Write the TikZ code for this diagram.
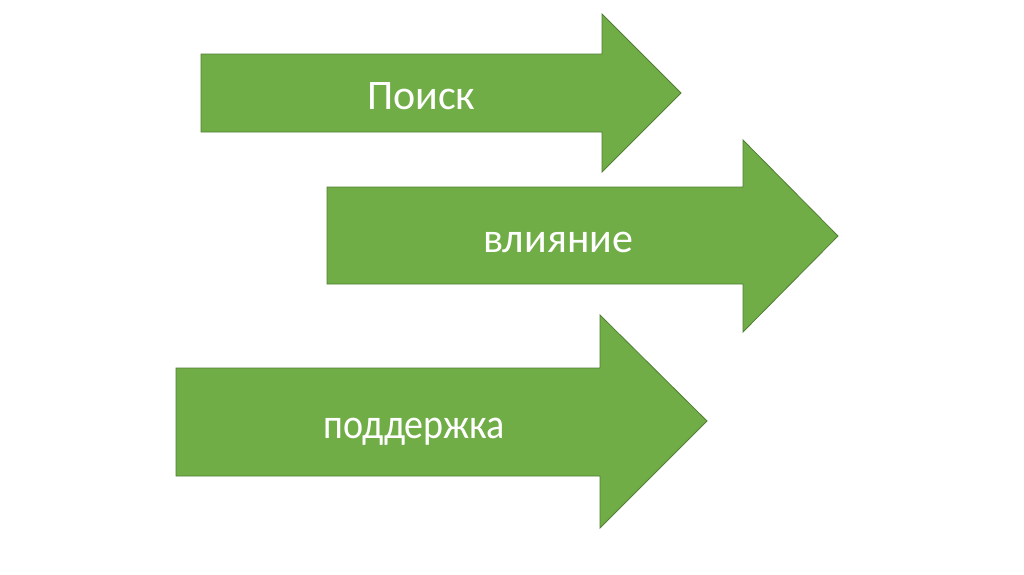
\documentclass[tikz,border=0pt]{standalone}
\usepackage{fontspec}
\setmainfont{Carlito}
\definecolor{argreen}{HTML}{70AD47}
\definecolor{arline}{HTML}{507E32}
\tikzset{
  bigarrow/.style={fill=argreen, draw=arline, line width=0.8pt, line join=miter},
  lbl/.style={anchor=base west, text=white, font=\fontsize{42}{48}\selectfont, inner sep=0pt},
}
\begin{document}
\begin{tikzpicture}[x=1pt, y=-1pt]
    \useasboundingbox (0,0) rectangle (1024,574);
    % left, body top, body bottom, head x, head top, head bottom, tip x, tip y
    \foreach \l/\bt/\bb/\hx/\ht/\hb/\tx/\ty in {
      201/54/132/602/14/172/681/93,
      327/187/284/743/140/332/838/236,
      176/368/476/600/315/528/707/421} {
      \draw[bigarrow] (\l,\bt) -- (\hx,\bt) -- (\hx,\ht) -- (\tx,\ty)
        -- (\hx,\hb) -- (\hx,\bb) -- (\l,\bb) -- cycle;
    }
    \node[lbl] (poisk) at (367,109) {Поиск};
    \node[lbl] (vliyanie) at (483,252) {влияние};
    \node[lbl] (podderzhka) at (323,438) {\scalebox{0.905}[1]{поддержка}};
\end{tikzpicture}
\end{document}
